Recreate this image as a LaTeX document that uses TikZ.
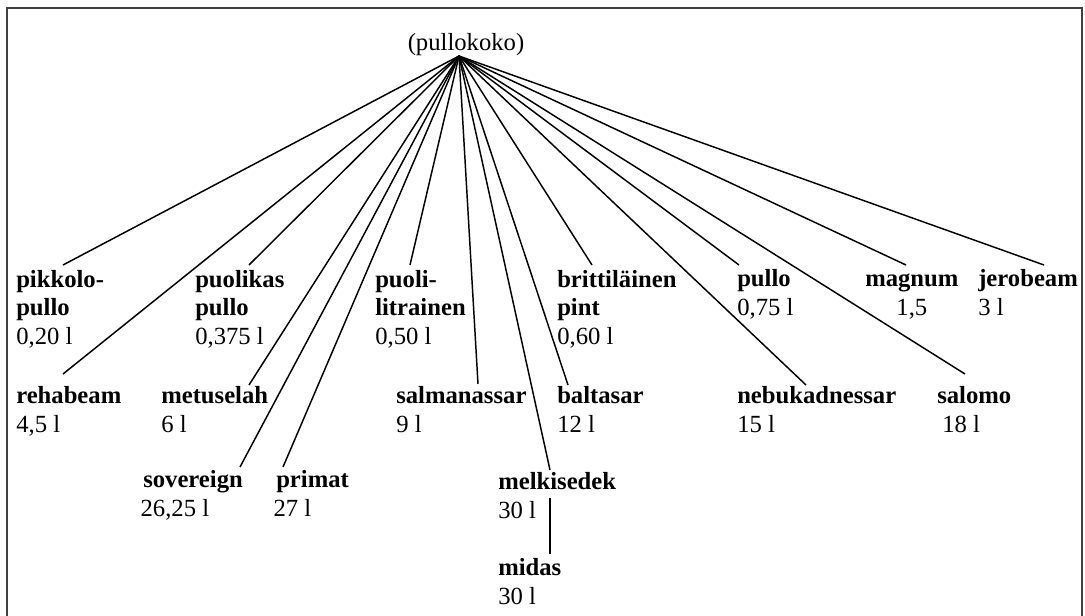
\documentclass[tikz,border=0pt]{standalone}
\usepackage{fontspec}
\setmainfont{Liberation Serif}
\usepackage{tikz}
\usetikzlibrary{positioning}

\tikzset{
  bottle/.style={anchor=base west, inner sep=0pt, align=left, font=\fontsize{18.5}{21.75}\selectfont},
  branch/.style={line width=1.1pt},
  frame/.style={line width=1.3pt, color=black!75},
}

\begin{document}
\begin{tikzpicture}[x=0.75pt,y=0.75pt,yscale=-1,xscale=1]
\useasboundingbox (0,0) rectangle (1085,616);
%Frame (open at the bottom)
\draw [frame] (7,625) -- (7,8) -- (1082,8) -- (1082,625) ;

%Root
\node [bottle, anchor=base] (koko) at (466,51) {(pullokoko)};
\coordinate (apex) at (459,56);

%Text Nodes, first row (anchored on the last line)
\node [bottle] (pikkolo) at (16,345) {\textbf{pikkolo-}\\\textbf{pullo}\\0,20 l};
\node [bottle] (puolikas) at (195,345) {\textbf{puolikas}\\\textbf{pullo}\\0,375 l};
\node [bottle] (puoli) at (375,345) {\textbf{puoli-}\\\textbf{litrainen}\\0,50 l};
\node [bottle] (pint) at (557,345) {\textbf{brittiläinen}\\\textbf{pint}\\0,60 l};
\node [bottle] (pullo) at (737,316) {\textbf{pullo}\\0,75 l};
\node [bottle, align=center] (magnum) at (865,316) {\textbf{magnum}\\1,5};
\node [bottle] (jerobeam) at (978,316) {\textbf{jerobeam}\\3 l};

%Text Nodes, second row
\node [bottle] (rehabeam) at (16,432) {\textbf{rehabeam}\\4,5 l};
\node [bottle] (metuselah) at (161,432) {\textbf{metuselah}\\6 l};
\node [bottle] (salmanassar) at (396,432) {\textbf{salmanassar}\\9 l};
\node [bottle] (baltasar) at (557,432) {\textbf{baltasar}\\12 l};
\node [bottle] (nebukadnessar) at (737,432) {\textbf{nebukadnessar}\\15 l};
\node [bottle] (salomo) at (937,432) {\textbf{salomo}\\\hspace*{3.75pt}18 l};

%Text Nodes, third row
\node [bottle] (sovereign) at (143,516) {\textbf{sovereign}\\\hspace*{-2pt}26,25 l};
\node [bottle] (primat) at (276,516) {\textbf{primat}\\\hspace*{-2pt}27 l};
\node [bottle] (melkisedek) at (498,518) {\textbf{melkisedek}\\30 l};
\node [bottle] (midas) at (498,604) {\textbf{midas}\\30 l};

%Line ends
\coordinate (pikkolo-t) at (63,265);
\coordinate (puolikas-t) at (249,265);
\coordinate (puoli-t) at (410,265);
\coordinate (pint-t) at (592,265);
\coordinate (pullo-t) at (739,265);
\coordinate (magnum-t) at (906,265);
\coordinate (jerobeam-t) at (1044,265);
\coordinate (rehabeam-t) at (63,374);
\coordinate (metuselah-t) at (249,385);
\coordinate (salmanassar-t) at (478,384);
\coordinate (baltasar-t) at (568,385);
\coordinate (nebukadnessar-t) at (806,385);
\coordinate (salomo-t) at (965,374);
\coordinate (sovereign-t) at (240,467);
\coordinate (primat-t) at (283,467);
\coordinate (melkisedek-t) at (550,470);
\coordinate (melkisedek-b) at (550,498);
\coordinate (midas-t) at (550,554);

%Straight Lines
\draw [branch] (apex) -- (pikkolo-t) ;
%Straight Lines
\draw [branch] (apex) -- (puolikas-t) ;
%Straight Lines
\draw [branch] (apex) -- (puoli-t) ;
%Straight Lines
\draw [branch] (apex) -- (pint-t) ;
%Straight Lines
\draw [branch] (apex) -- (pullo-t) ;
%Straight Lines
\draw [branch] (apex) -- (magnum-t) ;
%Straight Lines
\draw [branch] (apex) -- (jerobeam-t) ;
%Straight Lines
\draw [branch] (apex) -- (rehabeam-t) ;
%Straight Lines
\draw [branch] (apex) -- (metuselah-t) ;
%Straight Lines
\draw [branch] (apex) -- (salmanassar-t) ;
%Straight Lines
\draw [branch] (apex) -- (baltasar-t) ;
%Straight Lines
\draw [branch] (apex) -- (nebukadnessar-t) ;
%Straight Lines
\draw [branch] (apex) -- (salomo-t) ;
%Straight Lines
\draw [branch] (apex) -- (sovereign-t) ;
%Straight Lines
\draw [branch] (apex) -- (primat-t) ;
%Straight Lines
\draw [branch] (apex) -- (melkisedek-t) ;
%Straight Lines
\draw [branch] (melkisedek-b) -- (midas-t) ;

\end{tikzpicture}
\end{document}
